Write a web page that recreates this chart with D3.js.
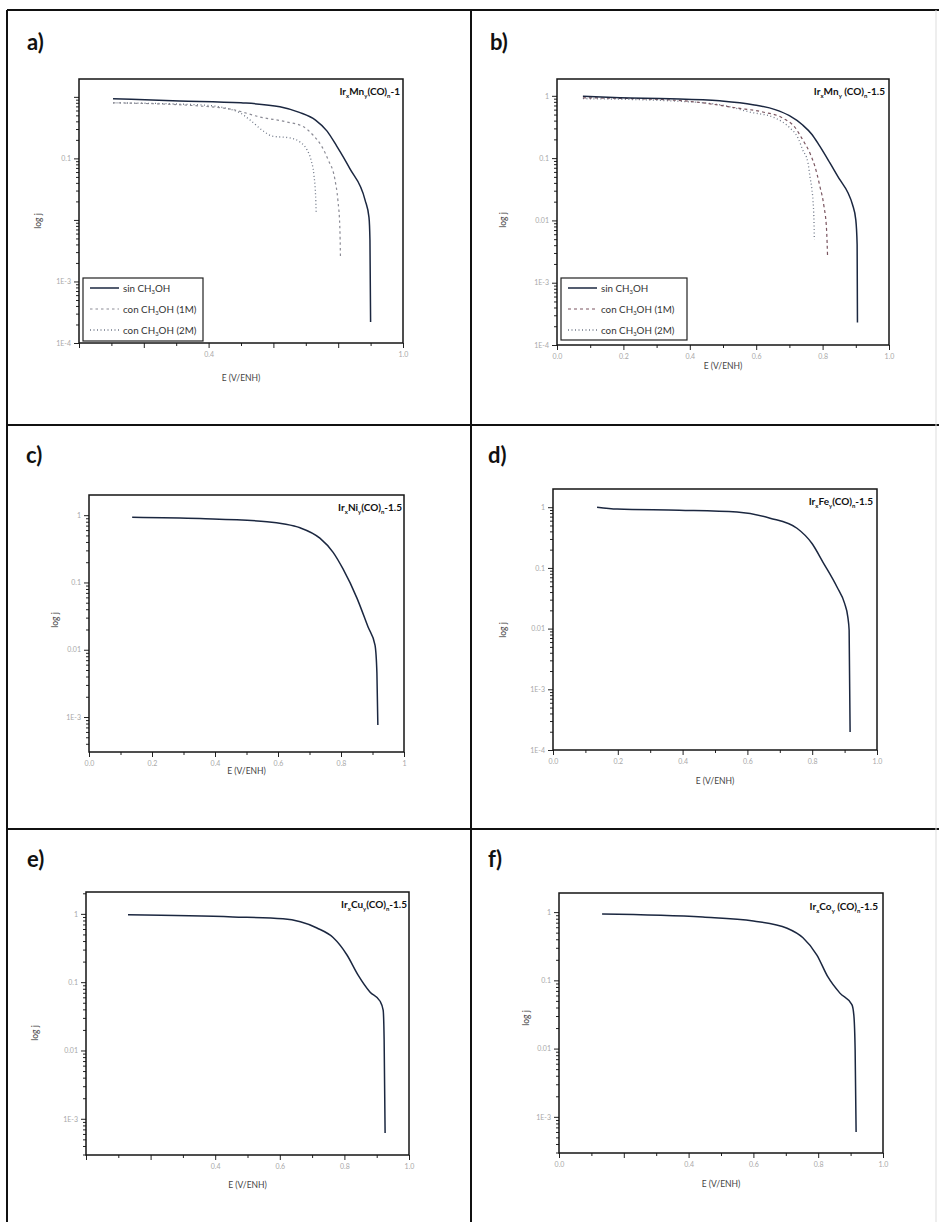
<!DOCTYPE html>
<html>
<head>
<meta charset="utf-8">
<script src="https://cdn.jsdelivr.net/npm/d3@7"></script>
<style>
  body { margin: 0; background: #fff; }
  svg { display: block; }
  text { font-family: Lato, "Open Sans", sans-serif; }
</style>
</head>
<body>
<svg id="fig" width="939" height="1222"></svg>
<script>
/*************************************************
    Data: [E (V/ENH), j]
 *************************************************/
var xTicks = [0, 0.2, 0.4, 0.6, 0.8, 1.0];
var xMinor = [0.1, 0.3, 0.5, 0.7, 0.9];
var yTicks = [1, 0.1, 0.01, 1e-3, 1e-4];

var xLabelsA = ["", "", "0.4", "", "", "1.0"];
var xLabelsB = ["0.0", "0.2", "0.4", "0.6", "0.8", "1.0"];
var xLabelsC = ["0.0", "0.2", "0.4", "0.6", "0.8", "1"];
var xLabelsD = ["0.0", "0.2", "0.4", "0.6", "0.8", "1.0"];
var xLabelsE = ["", "", "0.4", "0.6", "0.8", "1.0"];
var xLabelsF = ["0.0", "", "0.4", "0.6", "0.8", "1.0"];

var yLabelsA = ["", "0.1", "", "1E-3", "1E-4"];
var yLabelsB = ["1", "0.1", "0.01", "1E-3", "1E-4"];
var yLabelsC = ["1", "0.1", "0.01", "1E-3", ""];
var yLabelsD = ["1", "0.1", "0.01", "1E-3", "1E-4"];
var yLabelsE = ["1", "0.1", "0.01", "1E-3", ""];
var yLabelsF = ["1", "0.1", "0.01", "1E-3", ""];

var aSin = [[0.105, 0.93], [0.31, 0.86], [0.50, 0.80], [0.62, 0.69], [0.68, 0.56], [0.73, 0.42],
            [0.765, 0.28], [0.795, 0.16], [0.836, 0.068], [0.883, 0.021], [0.895, 0.011],
            [0.898, 0.0047], [0.900, 2.2e-4]];
var a1M = [[0.105, 0.80], [0.373, 0.71], [0.475, 0.62], [0.559, 0.47], [0.642, 0.39], [0.691, 0.33],
           [0.722, 0.24], [0.750, 0.154], [0.769, 0.095], [0.790, 0.045], [0.799, 0.021],
           [0.805, 0.0077], [0.807, 0.0024]];
var a2M = [[0.105, 0.80], [0.373, 0.74], [0.45, 0.66], [0.497, 0.55], [0.528, 0.42], [0.568, 0.28],
           [0.596, 0.23], [0.651, 0.215], [0.682, 0.185], [0.704, 0.137], [0.716, 0.095],
           [0.725, 0.054], [0.730, 0.026], [0.732, 0.0134]];

var bSin = [[0.078, 0.98], [0.19, 0.93], [0.34, 0.90], [0.49, 0.83], [0.59, 0.72], [0.657, 0.60],
            [0.70, 0.48], [0.74, 0.34], [0.768, 0.24], [0.79, 0.16], [0.822, 0.084],
            [0.852, 0.045], [0.876, 0.028], [0.89, 0.018], [0.90, 0.0102], [0.904, 0.0041],
            [0.905, 2.3e-4]];
var b1M = [[0.078, 0.93], [0.34, 0.86], [0.44, 0.77], [0.54, 0.64], [0.62, 0.55], [0.68, 0.44],
           [0.717, 0.31], [0.74, 0.197], [0.762, 0.12], [0.777, 0.073], [0.792, 0.035],
           [0.804, 0.017], [0.812, 0.007], [0.815, 0.0026]];
var b2M = [[0.078, 0.90], [0.34, 0.83], [0.49, 0.72], [0.58, 0.55], [0.657, 0.44], [0.70, 0.31],
           [0.726, 0.21], [0.74, 0.136], [0.756, 0.084], [0.762, 0.050], [0.768, 0.031],
           [0.771, 0.021], [0.774, 0.010], [0.775, 0.0049]];

var cSin = [[0.137, 0.93], [0.352, 0.89], [0.565, 0.80], [0.62, 0.74], [0.67, 0.65], [0.733, 0.455],
            [0.775, 0.28], [0.806, 0.16], [0.851, 0.058], [0.886, 0.0217], [0.908, 0.0117],
            [0.914, 0.0045], [0.917, 7.6e-4]];
var dSin = [[0.136, 1.0], [0.198, 0.93], [0.39, 0.89], [0.568, 0.83], [0.67, 0.66], [0.753, 0.45],
            [0.80, 0.25], [0.833, 0.125], [0.877, 0.048], [0.90, 0.026], [0.91, 0.0155],
            [0.914, 0.0094], [0.917, 1.98e-4]];
var eSin = [[0.13, 0.967], [0.455, 0.90], [0.61, 0.845], [0.715, 0.62], [0.765, 0.45], [0.808, 0.25],
            [0.842, 0.128], [0.879, 0.072], [0.91, 0.053], [0.92, 0.039], [0.923, 0.0144],
            [0.926, 6.2e-4]];
var fSin = [[0.133, 0.935], [0.444, 0.845], [0.60, 0.74], [0.704, 0.58], [0.753, 0.42], [0.796, 0.235],
            [0.83, 0.112], [0.867, 0.065], [0.904, 0.044], [0.91, 0.031], [0.914, 0.0095],
            [0.917, 6.0e-4]];

var legendItems = [
    {parts: ["sin CH", "3", "OH"], style: "solid"},
    {parts: ["con CH", "3", "OH (1M)"], style: "dash"},
    {parts: ["con CH", "3", "OH (2M)"], style: "dot"}
];

/*************************************************
    Styles and layout
 *************************************************/
var styles = {
    solid: {stroke: "#1b2740", width: 1.5, dash: null},
    dash: {stroke: "#7a5560", width: 1.2, dash: "3,3"},
    dashGray: {stroke: "#8b8b95", width: 1.2, dash: "2.5,3"},
    dot: {stroke: "#707888", width: 1.3, dash: "1,2.5"}
};

var panels = [
    {letter: "a)", letterAt: [27, 50], box: [79, 79, 403, 343], yTop: 0.29, yBot: -4,
     xl: xLabelsA, yl: yLabelsA, name: ["Ir", "x", "Mn", "y", "(CO)", "n", "-1"], nameAt: [400, 95],
     eAt: 381, logAt: [41, 221], legend: [83, 278, 203, 341],
     series: [[aSin, "solid"], [a1M, "dashGray"], [a2M, "dot"]]},
    {letter: "b)", letterAt: [490, 50], box: [557, 79, 889, 345], yTop: 0.27, yBot: -4,
     xl: xLabelsB, yl: yLabelsB, name: ["Ir", "x", "Mn", "y", " (CO)", "n", "-1.5"], nameAt: [885, 95],
     eAt: 369, logAt: [506, 220], legend: [561, 278, 687, 340],
     series: [[bSin, "solid"], [b1M, "dash"], [b2M, "dot"]]},
    {letter: "c)", letterAt: [26, 463], box: [89, 495, 404, 752], yTop: 0.30, yBot: -3.52,
     xl: xLabelsC, yl: yLabelsC, name: ["Ir", "x", "Ni", "y", "(CO)", "n", "-1.5"], nameAt: [402, 511],
     eAt: 774, logAt: [58, 620], legend: null,
     series: [[cSin, "solid"]]},
    {letter: "d)", letterAt: [488, 463], box: [553, 489, 877, 750], yTop: 0.30, yBot: -4,
     xl: xLabelsD, yl: yLabelsD, name: ["Ir", "x", "Fe", "y", "(CO)", "n", "-1.5"], nameAt: [873, 505],
     eAt: 784, logAt: [506, 630], legend: null,
     series: [[dSin, "solid"]]},
    {letter: "e)", letterAt: [27, 867], box: [86, 892, 409, 1155], yTop: 0.32, yBot: -3.53,
     xl: xLabelsE, yl: yLabelsE, name: ["Ir", "x", "Cu", "y", "(CO)", "n", "-1.5"], nameAt: [407, 908],
     eAt: 1188, logAt: [38, 1033], legend: null,
     series: [[eSin, "solid"]]},
    {letter: "f)", letterAt: [488, 867], box: [559, 893, 883, 1153], yTop: 0.28, yBot: -3.53,
     xl: xLabelsF, yl: yLabelsF, name: ["Ir", "x", "Co", "y", " (CO)", "n", "-1.5"], nameAt: [878, 910],
     eAt: 1187, logAt: [529, 1018], legend: null,
     series: [[fSin, "solid"]]}
];

var svg = d3.select("#fig");

// outer grid of the figure
var frameLines = [[7, 10, 939, 10], [7, 10, 7, 1222], [471, 10, 471, 1222],
                  [7, 425, 939, 425], [7, 829, 939, 829]];
svg.append("g").selectAll("line").data(frameLines).enter().append("line")
    .attr("x1", d => d[0]).attr("y1", d => d[1]).attr("x2", d => d[2]).attr("y2", d => d[3])
    .attr("stroke", "#111").attr("stroke-width", 2);
svg.append("line").attr("x1", 936).attr("y1", 10).attr("x2", 936).attr("y2", 1222)
    .attr("stroke", "#ddd").attr("stroke-width", 1);

/*************************************************
    Helpers
 *************************************************/
function styleAxis(sel) {
    sel.attr("font-family", null).attr("font-size", null);
    sel.select(".domain").remove();
    sel.selectAll(".tick line").attr("stroke", "#222").attr("stroke-width", 1);
    sel.selectAll(".tick text").attr("fill", "#a8a8a8").attr("font-size", 7);
}

function subText(g, parts, size) {
    // parts alternate: normal, subscript, normal, ...
    parts.forEach(function(p, i) {
        var sub = i % 2 === 1;
        g.append("tspan")
            .attr("font-size", sub ? size * 0.6 : size)
            .attr("dy", sub ? size * 0.3 : (i > 0 ? -size * 0.3 : 0))
            .text(p);
    });
}

function drawPanel(p) {
    var g = svg.append("g");
    var b = p.box;
    var x = d3.scaleLinear().domain([0, 1]).range([b[0], b[2]]);
    var lo = Math.pow(10, p.yBot), hi = Math.pow(10, p.yTop);
    var y = d3.scaleLog().domain([lo, hi]).range([b[3], b[1]]);

    var majY = yTicks.filter(v => v >= lo * 0.999 && v <= hi);
    var minY = [];
    for (var d = Math.floor(p.yBot); d < p.yTop; d++) {
        for (var k = 2; k < 10; k++) {
            var v = k * Math.pow(10, d);
            if (v >= lo && v <= hi) minY.push(v);
        }
    }

    g.append("g").attr("transform", "translate(" + b[0] + ",0)")
        .call(d3.axisLeft(y).tickValues(minY).tickSize(3).tickFormat(""))
        .call(styleAxis);
    g.append("g").attr("transform", "translate(" + b[0] + ",0)")
        .call(d3.axisLeft(y).tickValues(majY).tickSize(5).tickPadding(3)
            .tickFormat(v => p.yl[yTicks.indexOf(v)]))
        .call(styleAxis);
    g.append("g").attr("transform", "translate(0," + b[3] + ")")
        .call(d3.axisBottom(x).tickValues(xMinor).tickSize(3).tickFormat(""))
        .call(styleAxis);
    g.append("g").attr("transform", "translate(0," + b[3] + ")")
        .call(d3.axisBottom(x).tickValues(xTicks).tickSize(5).tickPadding(4)
            .tickFormat((v, i) => p.xl[i]))
        .call(styleAxis);

    g.append("rect")
        .attr("x", b[0]).attr("y", b[1]).attr("width", b[2] - b[0]).attr("height", b[3] - b[1])
        .attr("fill", "none").attr("stroke", "#151515").attr("stroke-width", 1.5);

    var line = d3.line()
        .x(d => x(d[0]))
        .y(d => y(d[1]))
        .curve(d3.curveMonotoneX);

    // draw dotted first so the solid curve stays on top
    p.series.slice().reverse().forEach(function(s) {
        var st = styles[s[1]];
        g.append("path").datum(s[0])
            .attr("d", line)
            .attr("fill", "none")
            .attr("stroke", st.stroke)
            .attr("stroke-width", st.width)
            .attr("stroke-dasharray", st.dash);
    });

    // compound name, top right
    var nm = g.append("text")
        .attr("x", p.nameAt[0]).attr("y", p.nameAt[1])
        .attr("text-anchor", "end").attr("font-weight", "bold").attr("fill", "#111");
    subText(nm, p.name, 10);

    g.append("text")
        .attr("x", p.letterAt[0]).attr("y", p.letterAt[1])
        .attr("font-size", 22).attr("font-weight", "bold").attr("fill", "#111")
        .text(p.letter);

    g.append("text")
        .attr("x", (b[0] + b[2]) / 2).attr("y", p.eAt)
        .attr("text-anchor", "middle").attr("font-size", 8.5).attr("fill", "#444")
        .text("E (V/ENH)");

    g.append("text")
        .attr("transform", "translate(" + p.logAt[0] + "," + p.logAt[1] + ") rotate(-90)")
        .attr("text-anchor", "middle").attr("font-size", 8.5).attr("fill", "#444")
        .text("log j");

    if (p.legend) {
        var L = p.legend;
        g.append("rect")
            .attr("x", L[0]).attr("y", L[1]).attr("width", L[2] - L[0]).attr("height", L[3] - L[1])
            .attr("fill", "#fff").attr("stroke", "#222").attr("stroke-width", 1.2);
        legendItems.forEach(function(item, i) {
            var yy = L[1] + 10 + i * 21;
            var st = styles[item.style === "dash" && p.letter === "a)" ? "dashGray" : item.style];
            g.append("line")
                .attr("x1", L[0] + 7).attr("x2", L[0] + 36).attr("y1", yy).attr("y2", yy)
                .attr("stroke", st.stroke).attr("stroke-width", st.width)
                .attr("stroke-dasharray", st.dash);
            var t = g.append("text")
                .attr("x", L[0] + 40).attr("y", yy + 3.5).attr("fill", "#333");
            subText(t, item.parts, 9.8);
        });
    }
}

panels.forEach(drawPanel);
</script>
</body>
</html>
